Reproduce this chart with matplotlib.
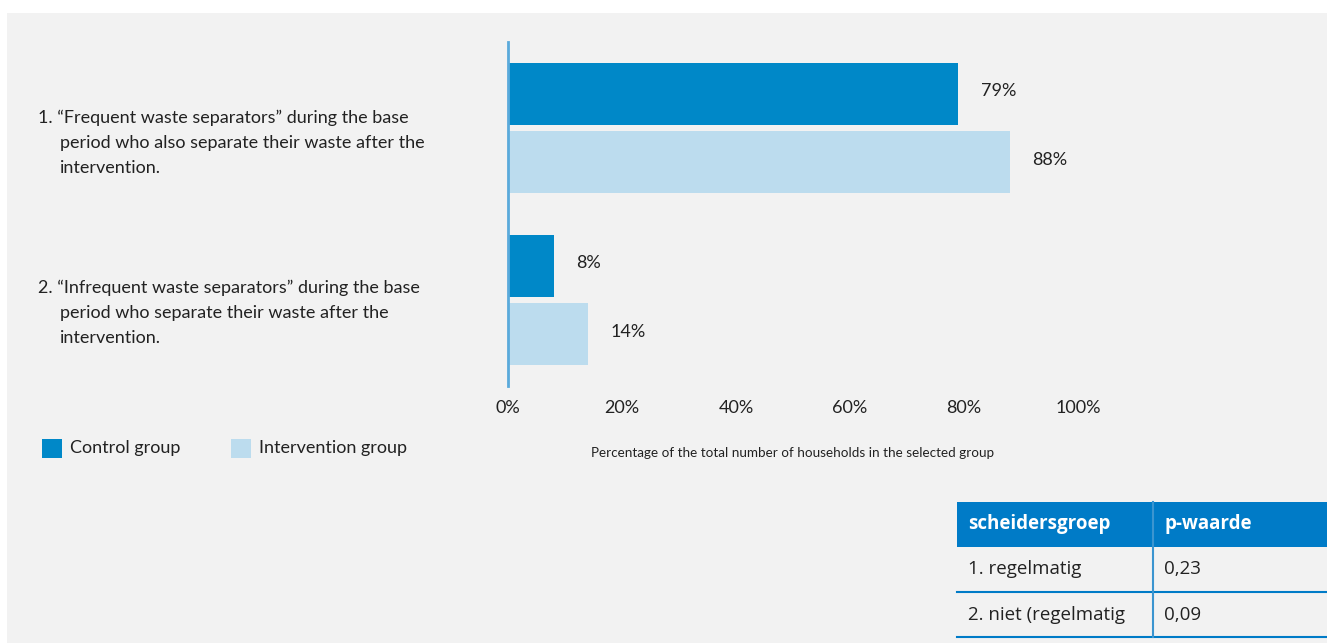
import matplotlib.pyplot as plt
from matplotlib.patches import Rectangle
from matplotlib.lines import Line2D

# data
groups = [
    "1. \u201cFrequent waste separators\u201d during the base\n"
    "period who also separate their waste after the\nintervention.",
    "2. \u201cInfrequent waste separators\u201d during the base\n"
    "period who separate their waste after the\nintervention.",
]
control = [79, 8]
intervention = [88, 14]
series_names = ["Control group", "Intervention group"]
xticks = [0, 20, 40, 60, 80, 100]
xlabel = "Percentage of the total number of households in the selected group"
table_header = ["scheidersgroep", "p-waarde"]
table_rows = [["1. regelmatig", "0,23"], ["2. niet (regelmatig", "0,09"]]

c_control = "#0088c8"
c_interv = "#bcdcee"
c_head = "#007bc7"
bg = "#f2f2f2"
txt = "#222222"

plt.rcParams["font.family"] = ["Lato", "DejaVu Sans"]

W, H = 1327, 643
fig = plt.figure(figsize=(W / 100, H / 100), dpi=100)
fig.patch.set_facecolor("white")


def fx(px):
    return px / W


def fy(py):
    return 1 - py / H


# gray panel
fig.patches.append(Rectangle((fx(7), 0), 1 - fx(7), fy(13), transform=fig.transFigure,
                             facecolor=bg, edgecolor="none", zorder=-10))

ax = fig.add_axes([fx(508), fy(386), fx(1078) - fx(508), (386 - 42) / H])
ax.set_zorder(2)
ax.set_facecolor("none")
ax.set_xlim(0, 100)
ax.set_ylim(1.5, -0.5)

off, h = 0.2, 0.36
for i in range(len(groups)):
    ax.barh(i - off, control[i], height=h, color=c_control, zorder=2)
    ax.barh(i + off, intervention[i], height=h, color=c_interv, zorder=2)
    ax.text(control[i] + 4, i - off - 0.015, f"{control[i]}%", va="center", ha="left",
            fontsize=13, color=txt)
    ax.text(intervention[i] + 4, i + off - 0.015, f"{intervention[i]}%", va="center", ha="left",
            fontsize=13, color=txt)

for s in ["top", "right", "bottom"]:
    ax.spines[s].set_visible(False)
ax.spines["left"].set_color("#5aaadb")
ax.spines["left"].set_linewidth(2)
ax.set_yticks([])
ax.set_xticks(xticks)
ax.set_xticklabels([f"{t}%" for t in xticks], fontsize=13, color=txt)
ax.tick_params(axis="x", length=0, pad=10)

fig.text(fx(793), fy(453), xlabel, ha="center", va="center", fontsize=9.7, color=txt)

# category labels with hanging indent
for i, label in enumerate(groups):
    lines = label.split("\n")
    y0 = [118, 288][i]
    for j, line in enumerate(lines):
        fig.text(fx(38 if j == 0 else 60), fy(y0 + 25 * j), line, ha="left", va="center",
                 fontsize=13, color=txt)

# legend
for k, (name, col) in enumerate(zip(series_names, [c_control, c_interv])):
    x0 = [42, 231][k]
    fig.patches.append(Rectangle((fx(x0), fy(458)), fx(20), 19 / H, transform=fig.transFigure,
                                 facecolor=col, edgecolor="none"))
    fig.text(fx(x0 + 28), fy(448), name, ha="left", va="center", fontsize=13, color=txt)

# p-value table
tx0, tx1, tx2 = 957, 1153, 1327
ty = [502, 547, 592, 637]
fig.patches.append(Rectangle((fx(tx0), fy(ty[1])), fx(tx2 - tx0), (ty[1] - ty[0]) / H,
                             transform=fig.transFigure, facecolor=c_head, edgecolor="none"))
for k, head in enumerate(table_header):
    fig.text(fx([tx0, tx1][k] + 11), fy((ty[0] + ty[1]) / 2), head, ha="left", va="center",
             fontsize=13.5, color="white", fontweight="bold", family=["Open Sans", "DejaVu Sans"])
for r, row in enumerate(table_rows):
    yc = (ty[r + 1] + ty[r + 2]) / 2
    for k, cell in enumerate(row):
        fig.text(fx([tx0, tx1][k] + 11), fy(yc), cell, ha="left", va="center",
                 fontsize=13.5, color=txt, family=["Open Sans", "DejaVu Sans"])
    fig.lines.append(Line2D([fx(tx0), fx(tx2)], [fy(ty[r + 2])] * 2, transform=fig.transFigure,
                            color=c_head, linewidth=1.5))
fig.lines.append(Line2D([fx(tx1)] * 2, [fy(ty[0]), fy(ty[3])], transform=fig.transFigure,
                        color="#3b95d0", linewidth=1.5))

fig.savefig("out.png", dpi=100, facecolor=fig.get_facecolor())
